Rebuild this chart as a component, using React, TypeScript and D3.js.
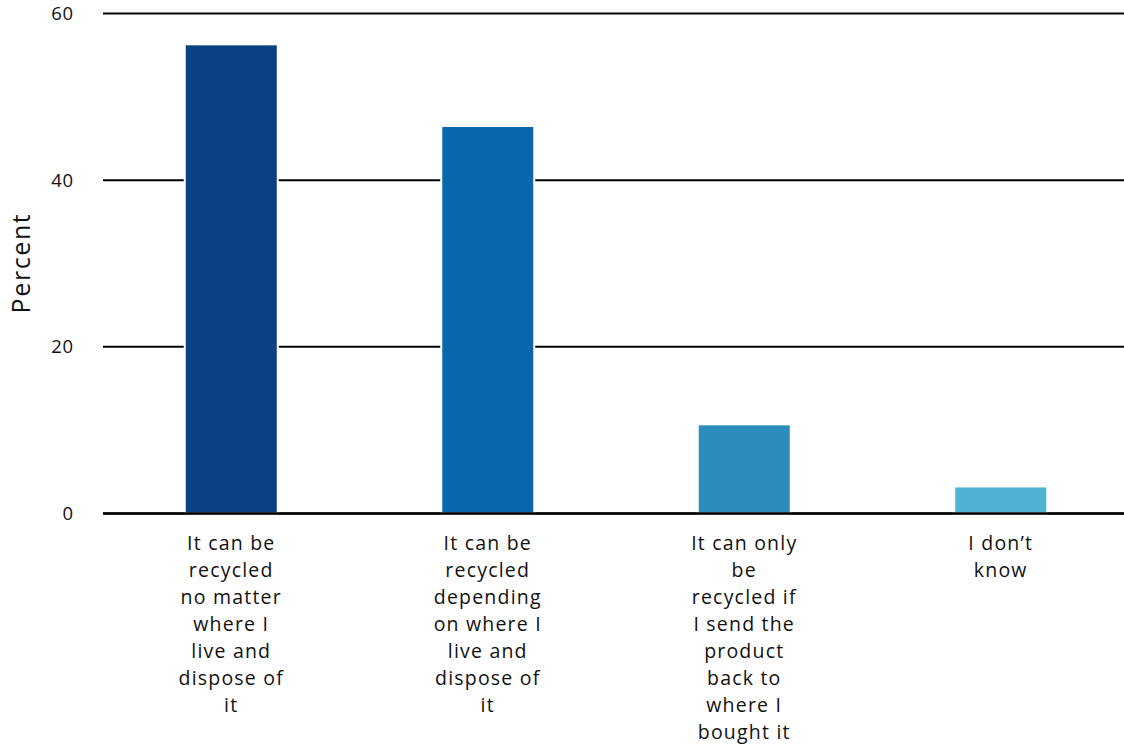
import React from "react";
import * as d3 from "d3";

const categories: string[][] = [
  ["It can be", "recycled", "no matter", "where I", "live and", "dispose of", "it"],
  ["It can be", "recycled", "depending", "on where I", "live and", "dispose of", "it"],
  ["It can only", "be", "recycled if", "I send the", "product", "back to", "where I", "bought it"],
  ["I don’t", "know"],
];
const values: number[] = [56.3, 46.5, 10.7, 3.25];
const colors: string[] = ["#084081", "#0868ac", "#2b8cbe", "#4eb3d3"];
const yTicks: number[] = [0, 20, 40, 60];

const W = 1124;
const H = 748;
const FONT = "'Open Sans', Lato, sans-serif";

export default function App() {
  const x = d3
    .scaleBand<number>()
    .domain(d3.range(values.length))
    .range([103, 1129])
    .paddingInner(0.6374)
    .paddingOuter(0.3187);
  const y = d3.scaleLinear().domain([0, 60]).range([513.5, 13.5]);

  return (
    <svg
      width={W}
      height={H}
      style={{ position: "absolute", left: 0, top: 0, background: "#fff" }}
      fontFamily={FONT}
    >
      {yTicks.map((t) => (
        <g key={t}>
          <line x1={103} x2={W} y1={y(t)} y2={y(t)} stroke="#000" strokeWidth={2} />
          <text x={74} y={y(t)} dy="0.35em" textAnchor="end" fontSize={18.5} fill="#111" letterSpacing={0.8}>
            {t}
          </text>
        </g>
      ))}
      {values.map((v, i) => (
        <rect
          key={i}
          x={x(i)!}
          y={y(v)}
          width={x.bandwidth()}
          height={y(0) - y(v)}
          fill={colors[i]}
          stroke="#fff"
          strokeWidth={2}
        />
      ))}
      <line x1={103} x2={W} y1={y(0)} y2={y(0)} stroke="#000" strokeWidth={2.5} />
      {categories.map((lines, i) => (
        <text
          key={i}
          x={x(i)! + x.bandwidth() / 2}
          y={550}
          textAnchor="middle"
          fontSize={19.5}
          fill="#111"
          letterSpacing={1.2}
        >
          {lines.map((l, j) => (
            <tspan key={j} x={x(i)! + x.bandwidth() / 2} y={550 + j * 27}>
              {l}
            </tspan>
          ))}
        </text>
      ))}
      <text
        transform={`translate(30, 263) rotate(-90)`}
        textAnchor="middle"
        fontSize={25}
        fill="#111"
        letterSpacing={1.6}
      >
        Percent
      </text>
    </svg>
  );
}
